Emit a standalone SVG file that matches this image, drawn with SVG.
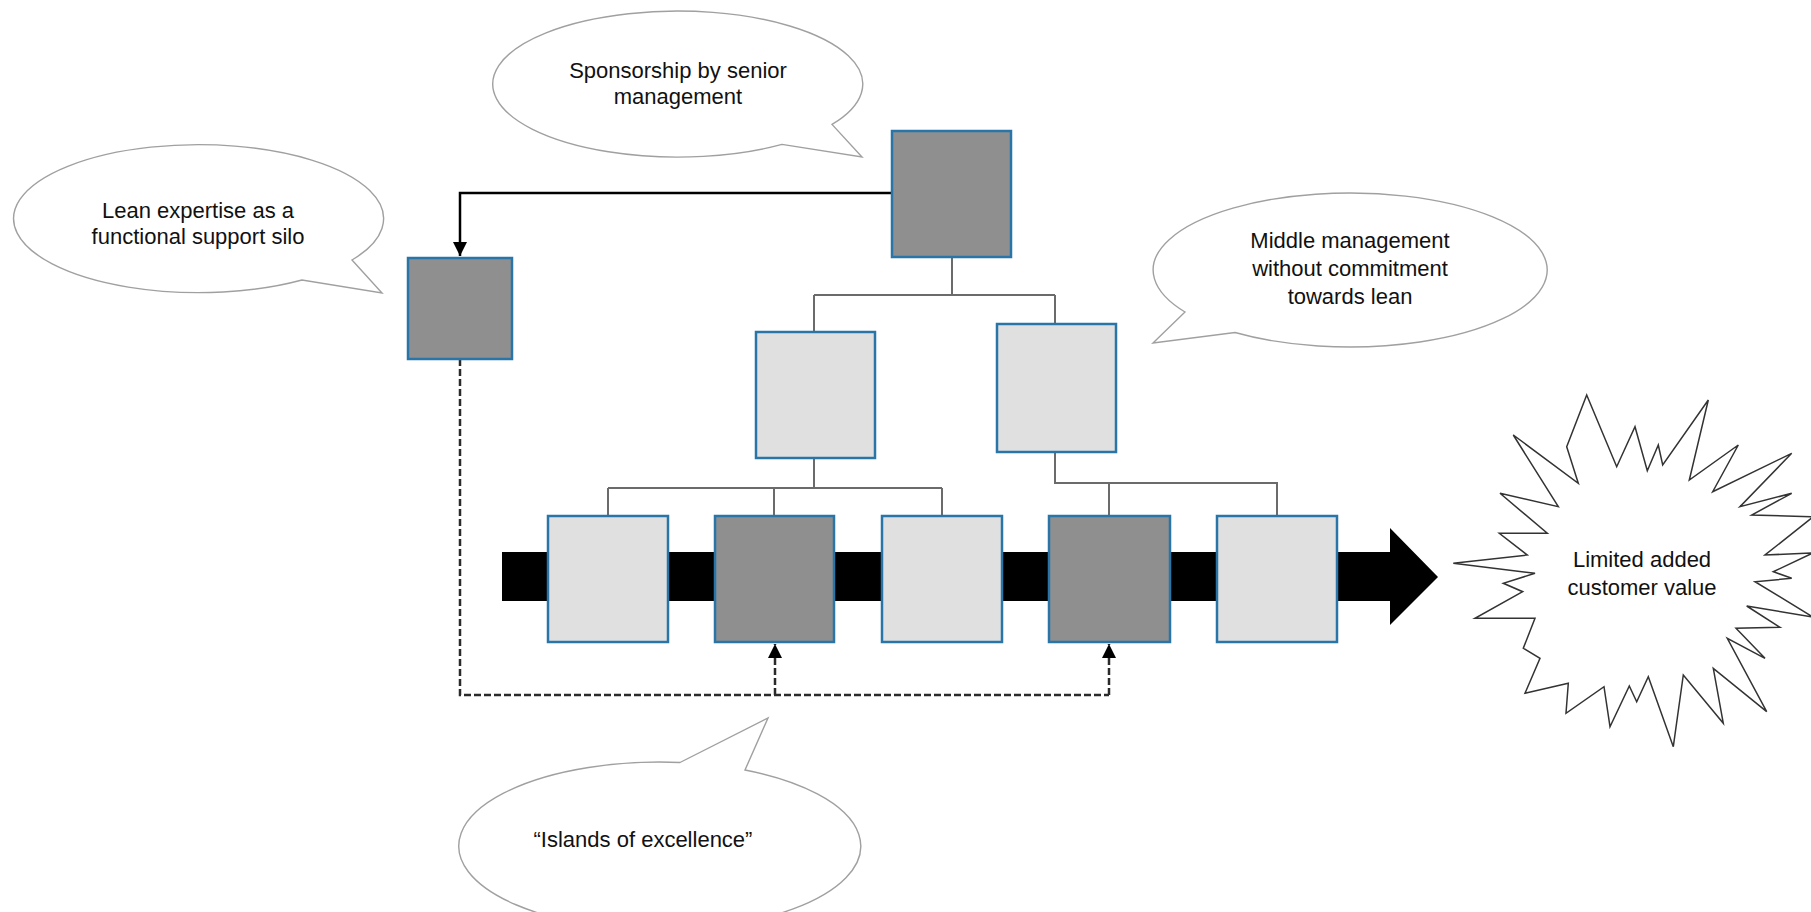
<svg xmlns="http://www.w3.org/2000/svg" width="1811" height="912" viewBox="0 0 1811 912">
  <style>
    .box-dark { fill: #8f8f8f; stroke: #2a75a8; stroke-width: 2.5; }
    .box-light { fill: #e0e0e0; stroke: #2a75a8; stroke-width: 2.5; }
    .org { fill: none; stroke: #6b6b6b; stroke-width: 2; }
    .solid { fill: none; stroke: #000; stroke-width: 2.5; }
    .dashed { fill: none; stroke: #2a2a2a; stroke-width: 2.5; stroke-dasharray: 7 3; }
    .bubble { fill: #fff; stroke: #a0a0a0; stroke-width: 1.4; }
    .burst { fill: #fff; stroke: #333; stroke-width: 1.5; stroke-linejoin: miter; }
    .label { font-family: "Liberation Sans", Arial, sans-serif; font-size: 22px; fill: #111; text-anchor: middle; }
  </style>
  <defs>
    <marker id="arrowhead" markerUnits="userSpaceOnUse" markerWidth="15" markerHeight="15" refX="14" refY="7" orient="auto">
      <path d="M0,0 L14,7 L0,14 Z" fill="#000"/>
    </marker>
  </defs>

  <rect width="1811" height="912" fill="#fff"/>

  <!-- value stream flow arrow -->
  <g id="flow-arrow">
    <path d="M502 552 H1390 V528 L1438 577 L1390 625 V601 H502 Z" fill="#000"/>
  </g>

  <!-- connectors -->
  <g id="connectors">
    <path class="solid" d="M892 193 H460 V256" marker-end="url(#arrowhead)"/>
    <path class="org" d="M952 257 V295 M814 295 H1055 M814 295 V332 M1055 295 V324"/>
    <path class="org" d="M814 458 V488 M608 488 H942 M608 488 V516 M774 488 V516 M942 488 V516"/>
    <path class="org" d="M1055 452 V483 H1277 V516 M1109 483 V516"/>
    <path class="dashed" d="M460 359 V695 H1109"/>
    <path class="dashed" d="M775 695 V644" marker-end="url(#arrowhead)"/>
    <path class="dashed" d="M1109 695 V644" marker-end="url(#arrowhead)"/>
  </g>

  <!-- organisation boxes -->
  <g id="senior-management"><rect class="box-dark" x="892" y="131" width="119" height="126"/></g>
  <g id="lean-support"><rect class="box-dark" x="408" y="258" width="104" height="101"/></g>
  <g id="middle-manager-1"><rect class="box-light" x="756" y="332" width="119" height="126"/></g>
  <g id="middle-manager-2"><rect class="box-light" x="997" y="324" width="119" height="128"/></g>
  <g id="process-1"><rect class="box-light" x="548" y="516" width="120" height="126"/></g>
  <g id="process-2"><rect class="box-dark" x="715" y="516" width="119" height="126"/></g>
  <g id="process-3"><rect class="box-light" x="882" y="516" width="120" height="126"/></g>
  <g id="process-4"><rect class="box-dark" x="1049" y="516" width="121" height="126"/></g>
  <g id="process-5"><rect class="box-light" x="1217" y="516" width="120" height="126"/></g>

  <!-- speech bubbles -->
  <g id="bubble-sponsorship">
    <path class="bubble" d="M832 124.4 L862 157 L782 144.4 A185 73 0 1 1 832 124.4 Z"/>
    <text class="label" x="678" y="78">Sponsorship by senior</text>
    <text class="label" x="678" y="104">management</text>
  </g>
  <g id="bubble-lean-expertise">
    <path class="bubble" d="M352 260 L382 293 L302 280 A185 74 0 1 1 352 260 Z"/>
    <text class="label" x="198" y="218">Lean expertise as a</text>
    <text class="label" x="198" y="244">functional support silo</text>
  </g>
  <g id="bubble-middle-management">
    <path class="bubble" d="M1185 312 L1153 343 L1235 332.5 A197 77 0 1 0 1185 312 Z"/>
    <text class="label" x="1350" y="248">Middle management</text>
    <text class="label" x="1350" y="276">without commitment</text>
    <text class="label" x="1350" y="304">towards lean</text>
  </g>
  <g id="bubble-islands">
    <path class="bubble" d="M680 762.5 L768 718 L745 770 A201 84 0 1 1 680 762.5 Z"/>
    <text class="label" x="643" y="847">“Islands of excellence”</text>
  </g>

  <!-- outcome burst -->
  <g id="customer-value">
    <polygon class="burst" points="1586.7,395 1616.7,466.7 1635,426.7 1647.3,470.7 1658.3,445 1662.7,465 1708.3,400 1689.3,480 1738.3,445 1712.7,491.7 1791.7,453.3 1740,506.7 1791.7,493.3 1751.7,515 1813.3,516.7 1765,555 1813,553 1773.3,571.7 1791.7,578.3 1755,581.7 1813,617 1746.7,606 1780,627.3 1736,628.3 1765,658.3 1727.3,638.3 1766.7,711.7 1713.3,668.3 1723.3,723.3 1683.3,675 1673.3,746.7 1648.3,676.7 1636.7,701.7 1629.3,686 1610,726.7 1604,686.7 1566,713.3 1568.3,683.3 1525,693.3 1540,658.3 1523.3,648.3 1535,618.3 1475,618.3 1522.7,591.7 1503.3,583.3 1535,573.3 1453.3,563.3 1527.3,555 1499.3,533.3 1547.3,533.3 1500,493.3 1558.3,506.7 1513.3,435 1578.3,483.3 1566.7,446.7"/>
    <text class="label" x="1642" y="567">Limited added</text>
    <text class="label" x="1642" y="595">customer value</text>
  </g>
</svg>
